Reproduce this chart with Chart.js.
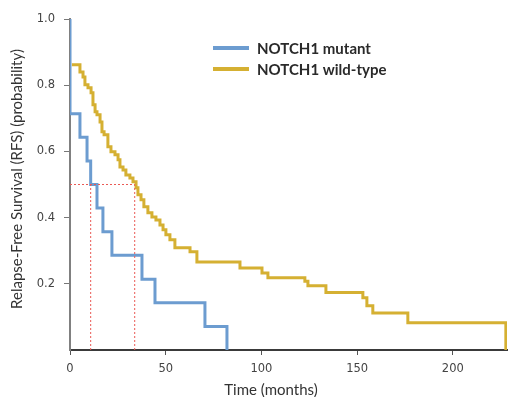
<!DOCTYPE html>
<html>
<head>
<meta charset="utf-8">
<title>Relapse-free survival by NOTCH1 status</title>
<script src="https://cdn.jsdelivr.net/npm/chart.js@4.4.0/dist/chart.umd.min.js"></script>
<style>
    html, body { margin: 0; padding: 0; background: #fff; }
</style>
</head>
<body>
<canvas id="rfsChart" width="509" height="397"></canvas>
<script>
// Kaplan-Meier steps: each point is (time in months, RFS from that time on)
const mutantTimes = [0, 0, 5.2, 8.9, 10.8, 14.1, 17.2, 21.9, 37.6, 44.4, 70.5, 82.0];
const mutantRfs   = [1.0, 0.714, 0.643, 0.571, 0.5, 0.429, 0.357, 0.286, 0.214, 0.143, 0.071, 0];

const wildTimes = [1.0, 5.2, 6.8, 7.8, 9.4, 11.0, 12.0, 13.1, 14.1, 15.7, 16.7, 17.8, 19.8, 21.4,
    23.5, 25.1, 26.1, 27.7, 29.2, 31.3, 32.9, 34.5, 35.5, 37.1, 38.6, 40.7, 42.8, 44.9, 47.0,
    48.6, 50.1, 52.2, 54.8, 62.7, 66.3, 88.8, 100.3, 103.4, 122.7, 124.3, 133.7, 153.0, 155.1,
    158.2, 176.5, 227.7];
const wildRfs = [0.862, 0.840, 0.825, 0.801, 0.792, 0.777, 0.741, 0.720, 0.711, 0.689, 0.659, 0.650,
    0.614, 0.599, 0.590, 0.575, 0.553, 0.544, 0.529, 0.520, 0.508, 0.490, 0.469, 0.454, 0.433,
    0.415, 0.402, 0.393, 0.378, 0.363, 0.348, 0.333, 0.309, 0.297, 0.266, 0.248, 0.233, 0.218,
    0.208, 0.194, 0.174, 0.158, 0.134, 0.112, 0.082, 0];

// median RFS guide lines
const medianRfs = 0.5;
const medianTimes = [10.8, 33.8];

const xTicks = [0, 50, 100, 150, 200];
const yTicks = [0.2, 0.4, 0.6, 0.8, 1.0];
const xMax = 228.3;

const seriesLabels = ['NOTCH1 mutant', 'NOTCH1 wild-type'];
const seriesColors = ['#6c9cd0', '#d5b032'];

const toPoints = (xs, ys) => xs.map((x, i) => ({ x: x, y: ys[i] }));

function stepDataset(label, color, xs, ys) {
    return {
        label: label,
        data: toPoints(xs, ys),
        borderColor: color,
        borderWidth: 3,
        stepped: 'before',
        pointRadius: 0,
        fill: false
    };
}

function guideDataset(points) {
    return {
        label: '',
        data: points,
        borderColor: '#ea5a55',
        borderWidth: 1,
        borderDash: [2, 2],
        pointRadius: 0,
        fill: false,
        isGuide: true
    };
}

const guideSets = [guideDataset([{ x: 0, y: medianRfs }, { x: Math.max(...medianTimes), y: medianRfs }])];
medianTimes.forEach(t => {
    guideSets.push(guideDataset([{ x: t, y: 0 }, { x: t, y: medianRfs }]));
});

// axis titles and the in-plot legend
const annotations = {
    id: 'annotations',
    afterDraw(chart) {
        const ctx = chart.ctx;
        ctx.save();
        ctx.fillStyle = '#333';
        ctx.textAlign = 'center';
        ctx.textBaseline = 'middle';

        ctx.font = '15px Lato';
        ctx.fillText('Time (months)', 271, 390);

        ctx.save();
        ctx.translate(17.5, 179);
        ctx.rotate(-Math.PI / 2);
        ctx.font = '15px Lato';
        ctx.fillText('Relapse-Free Survival (RFS) (probability)', 0, 0);
        ctx.restore();

        ctx.textAlign = 'left';
        ctx.font = 'bold 15px Lato';
        chart.data.datasets.filter(ds => !ds.isGuide).forEach((ds, i) => {
            const y = 48 + i * 21;
            ctx.strokeStyle = ds.borderColor;
            ctx.lineWidth = 4;
            ctx.beginPath();
            ctx.moveTo(213, y);
            ctx.lineTo(249, y);
            ctx.stroke();
            ctx.fillStyle = '#2a2a2a';
            ctx.fillText(ds.label, 257, y + 1);
        });
        ctx.restore();
    }
};

const ctx = document.getElementById('rfsChart').getContext('2d');
const rfsChart = new Chart(ctx, {
    type: 'line',
    data: {
        datasets: [
            ...guideSets,
            stepDataset(seriesLabels[0], seriesColors[0], mutantTimes, mutantRfs),
            stepDataset(seriesLabels[1], seriesColors[1], wildTimes, wildRfs)
        ]
    },
    options: {
        responsive: false,
        animation: false,
        layout: {
            padding: { left: 0, right: 2, top: 19, bottom: 0 }
        },
        scales: {
            x: {
                type: 'linear',
                min: 0,
                max: xMax,
                afterFit: scale => { scale.height = 47; },
                afterBuildTicks: scale => { scale.ticks = xTicks.map(v => ({ value: v })); },
                grid: {
                    display: true,
                    drawOnChartArea: false,
                    drawTicks: true,
                    tickLength: 5,
                    color: '#555'
                },
                border: { display: true, color: '#3a3a3a', width: 2 },
                ticks: {
                    padding: 7,
                    color: '#444',
                    font: { family: 'DejaVu Sans', size: 11.5 },
                    callback: v => String(v)
                }
            },
            y: {
                min: 0,
                max: 1.0,
                afterFit: scale => { scale.width = 70; },
                afterBuildTicks: scale => { scale.ticks = yTicks.map(v => ({ value: v })); },
                grid: {
                    display: true,
                    drawOnChartArea: false,
                    drawTicks: true,
                    tickLength: 6,
                    color: '#777'
                },
                border: { display: true, color: '#808080', width: 2 },
                ticks: {
                    padding: 9,
                    color: '#444',
                    font: { family: 'DejaVu Sans', size: 11.5 },
                    callback: v => v.toFixed(1)
                }
            }
        },
        plugins: {
            legend: { display: false },
            tooltip: { enabled: false }
        }
    },
    plugins: [annotations]
});
</script>
</body>
</html>
